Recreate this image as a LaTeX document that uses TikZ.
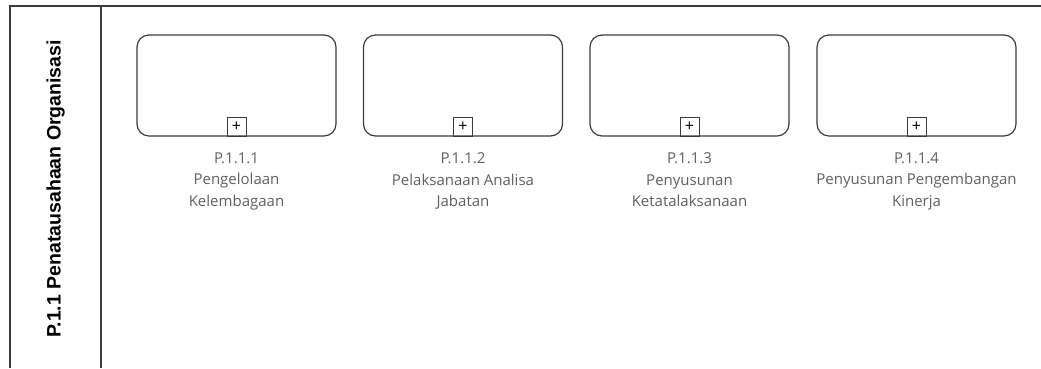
\documentclass[tikz,border=0pt]{standalone}
\usepackage{fontspec}
\setmainfont{Open Sans}
\newfontfamily\lanefont{Liberation Sans}
\definecolor{txtgray}{HTML}{606060}
\definecolor{linegray}{HTML}{3C3C3C}
\begin{document}
\begin{tikzpicture}[x=1pt,y=-1pt,
  frame/.style={draw=linegray,line width=1.2pt},
  task/.style={draw=linegray,line width=1.2pt,rounded corners=12pt,minimum width=199pt,minimum height=101pt,inner sep=0pt},
  plusbox/.style={draw=linegray,line width=1pt,minimum size=19pt,inner sep=0pt,font=\fontsize{16}{16}\selectfont},
  lbl/.style={text=txtgray,align=center,font=\fontsize{15}{21.5}\selectfont,anchor=north,inner sep=0pt}]
\useasboundingbox (0,0) rectangle (1041,368);
\coordinate (tl) at (10,6);
\coordinate (tr) at (1041,6);
\coordinate (bl) at (10,368);
\coordinate (dt) at (101,6);
\coordinate (db) at (101,368);
\draw[frame] (bl) -- (tl) -- (tr);
\draw[frame] (dt) -- (db);
\node[rotate=90,font=\lanefont\bfseries\fontsize{19.5}{19.5}\selectfont,text=black] (lane) at (55.5,189) {P.1.1 Penatausahaan Organisasi};
\foreach \i/\x/\t in {1/236.5/{P.1.1.1\\Pengelolaan\\Kelembagaan},
                     2/463/{P.1.1.2\\Pelaksanaan Analisa\\Jabatan},
                     3/689.5/{P.1.1.3\\Penyusunan\\Ketatalaksanaan},
                     4/916.5/{P.1.1.4\\Penyusunan Pengembangan\\Kinerja}}{
  \node[task] (t\i) at (\x,85.5) {};
  \node[plusbox,anchor=south] (p\i) at (t\i.south) {+};
  \node[lbl] (l\i) at (\x,152.5) {\t};
}
\end{tikzpicture}
\end{document}
